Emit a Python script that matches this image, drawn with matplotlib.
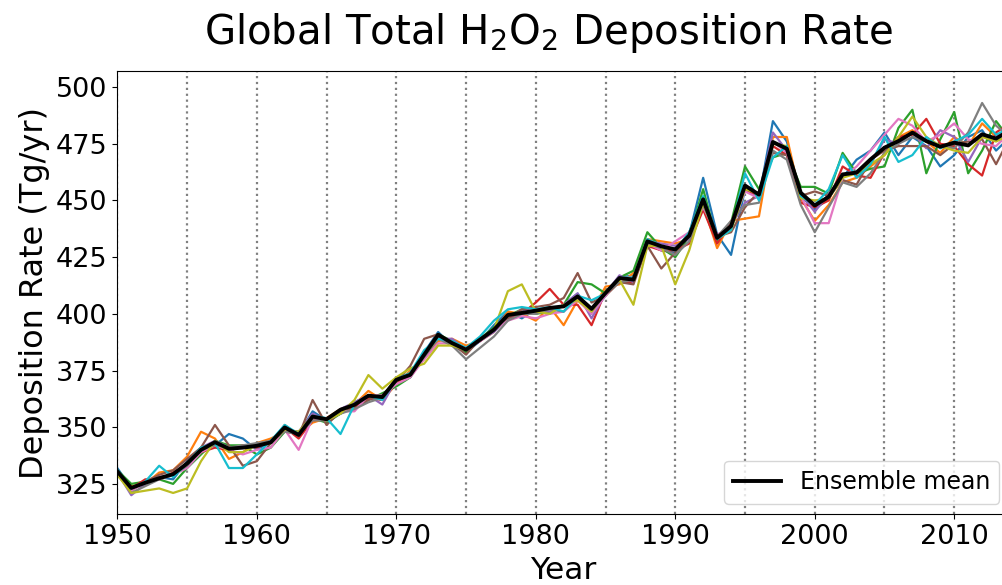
import numpy as np
import matplotlib
matplotlib.use('Agg')
import matplotlib.pyplot as plt

years = np.arange(1950, 2015)

ens_mean = [330.5, 323.2, 325.5, 327.5, 329.3, 334.0, 340.0, 343.4, 340.5, 341.0,
            341.8, 343.3, 349.9, 346.6, 354.7, 353.5, 357.7, 359.9, 363.9, 363.3,
            370.9, 373.1, 382.0, 390.8, 387.1, 384.2, 388.6, 393.0, 399.5, 400.4,
            401.4, 402.6, 403.3, 407.7, 402.2, 409.2, 415.8, 415.1, 432.0, 429.8,
            428.4, 434.5, 450.5, 433.5, 438.7, 456.6, 452.6, 475.8, 472.8, 453.4,
            447.8, 451.6, 461.5, 462.3, 468.1, 473.3, 476.2, 479.9, 476.2, 473.7,
            475.5, 474.3, 479.2, 477.3, 481.0]

m_blue = [332, 323, 326, 328, 327, 335, 341, 342, 347, 345,
          340, 344, 350, 347, 357, 353, 356, 361, 364, 362,
          371, 372, 383, 392, 386, 383, 388, 395, 401, 398,
          402, 400, 404, 409, 400, 408, 416, 417, 431, 428,
          427, 435, 460, 435, 426, 455, 451, 485, 476, 452,
          446, 451, 460, 468, 472, 480, 470, 478, 474, 465,
          470, 478, 481, 472, 478]
m_orange = [330, 324, 325, 330, 331, 337, 348, 345, 336, 339,
            343, 345, 348, 347, 352, 354, 358, 360, 366, 362,
            369, 375, 380, 388, 389, 386, 388, 392, 401, 400,
            397, 403, 395, 406, 401, 412, 413, 418, 433, 432,
            431, 433, 448, 429, 441, 442, 443, 478, 478, 451,
            441, 448, 458, 460, 465, 470, 478, 481, 476, 471,
            478, 474, 484, 478, 480]
m_green = [331, 325, 326, 327, 325, 332, 338, 344, 342, 342,
           338, 341, 348, 348, 354, 352, 356, 359, 362, 365,
           368, 372, 381, 391, 388, 383, 389, 394, 399, 402,
           400, 401, 404, 414, 413, 409, 416, 419, 436, 429,
           425, 434, 455, 432, 440, 465, 455, 469, 471, 456,
           456, 453, 471, 462, 464, 465, 482, 490, 462, 477,
           489, 462, 472, 485, 477]
m_red = [329, 323, 327, 327, 330, 333, 339, 341, 340, 342,
         341, 344, 350, 345, 353, 354, 357, 359, 363, 362,
         370, 373, 382, 390, 386, 385, 388, 393, 398, 400,
         405, 411, 404, 404, 395, 410, 414, 414, 430, 428,
         428, 431, 446, 431, 440, 455, 452, 474, 470, 449,
         447, 450, 465, 461, 460, 471, 478, 479, 486, 475,
         474, 466, 461, 480, 484]
m_purple = [330, 320, 325, 328, 329, 333, 341, 344, 341, 341,
            342, 343, 349, 348, 356, 353, 358, 361, 364, 360,
            371, 373, 383, 389, 389, 384, 388, 392, 398, 402,
            401, 401, 404, 409, 398, 409, 417, 414, 432, 431,
            430, 433, 451, 433, 439, 449, 452, 480, 472, 453,
            445, 453, 461, 463, 466, 477, 475, 480, 473, 481,
            478, 467, 478, 478, 482]
m_brown = [329, 322, 326, 329, 331, 336, 341, 351, 342, 333,
           335, 343, 351, 346, 362, 351, 357, 358, 362, 364,
           370, 377, 389, 391, 387, 382, 389, 393, 398, 402,
           403, 404, 407, 418, 405, 408, 414, 413, 430, 420,
           427, 436, 449, 434, 436, 447, 454, 471, 470, 452,
           454, 452, 459, 457, 468, 472, 474, 474, 474, 470,
           475, 476, 477, 466, 478]
m_pink = [330, 322, 326, 327, 329, 332, 339, 342, 340, 338,
          340, 341, 349, 340, 354, 353, 357, 357, 364, 364,
          369, 372, 380, 387, 387, 385, 388, 393, 397, 399,
          398, 400, 401, 406, 400, 408, 416, 416, 431, 428,
          432, 436, 447, 435, 438, 454, 451, 476, 471, 452,
          440, 440, 460, 465, 472, 479, 486, 483, 476, 479,
          484, 477, 475, 474, 480]
m_gray = [330, 321, 324, 327, 329, 333, 340, 342, 341, 342,
          343, 344, 348, 347, 353, 353, 356, 358, 361, 363,
          372, 373, 381, 389, 386, 380, 385, 390, 397, 400,
          400, 402, 401, 408, 401, 409, 414, 415, 431, 429,
          426, 432, 448, 434, 441, 448, 449, 472, 468, 448,
          436, 447, 458, 456, 462, 471, 475, 478, 476, 474,
          473, 480, 493, 483, 478]
m_olive = [329, 321, 322, 323, 321, 323, 335, 344, 339, 339,
           342, 343, 349, 348, 355, 353, 356, 362, 373, 367,
           372, 376, 378, 386, 386, 384, 389, 393, 410, 413,
           401, 400, 404, 406, 401, 410, 415, 404, 430, 430,
           413, 428, 449, 433, 437, 455, 453, 475, 474, 451,
           450, 451, 460, 462, 466, 470, 478, 487, 478, 474,
           472, 471, 478, 476, 479]
m_cyan = [331, 323, 326, 333, 328, 334, 341, 343, 332, 332,
          338, 344, 351, 347, 355, 354, 347, 360, 364, 362,
          371, 374, 384, 389, 388, 385, 390, 397, 402, 403,
          402, 403, 401, 408, 406, 409, 416, 416, 433, 430,
          428, 436, 452, 433, 437, 462, 450, 469, 474, 452,
          448, 455, 470, 460, 466, 478, 467, 470, 478, 473,
          476, 479, 486, 479, 482]

members = [m_blue, m_orange, m_green, m_red, m_purple,
           m_brown, m_pink, m_gray, m_olive, m_cyan]

fig = plt.figure(figsize=(10.02, 5.85), dpi=100)
ax = fig.add_axes([0.1171, 0.1209, 0.8909, 0.7577])

# dotted guides every 5 years
for yr in range(1950, 2015, 5):
    ax.axvline(yr, color='gray', linestyle=':', linewidth=1.6, zorder=0)

for i, m in enumerate(members):
    ax.plot(years, m, color='C%d' % i, linewidth=1.6)
ax.plot(years, ens_mean, color='black', linewidth=2.8, label='Ensemble mean')

ax.set_xlim(1950, 2014)
ax.set_ylim(311.6, 507.1)
ax.set_xticks(range(1950, 2011, 10))
ax.set_yticks(range(325, 501, 25))
ax.tick_params(labelsize=19.5)
ax.set_xlabel('Year', fontsize=22.5)
ax.set_ylabel('Deposition Rate (Tg/yr)', fontsize=23)
ax.legend(loc='lower right', fontsize=17, borderaxespad=0.45)
fig.text(0.548, 0.943, 'Global Total H$_2$O$_2$ Deposition Rate',
         fontsize=29, ha='center', va='center')

fig.savefig('out.png', dpi=100)
